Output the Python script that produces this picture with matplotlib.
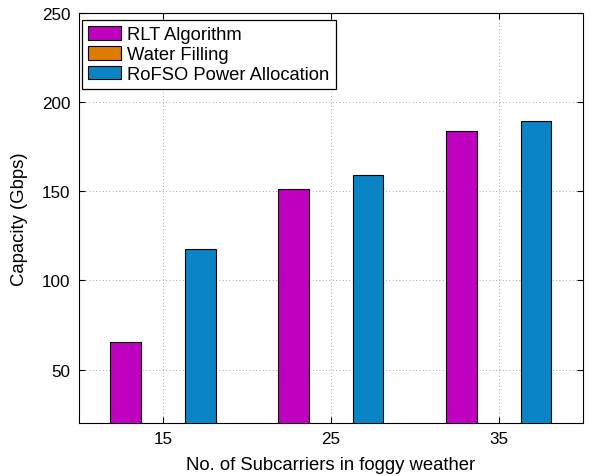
import numpy as np
import matplotlib
matplotlib.use('Agg')
import matplotlib.pyplot as plt

# Data
subcarriers = [15, 25, 35]
rlt = [65.5, 151.4, 183.7]
water_filling = [0, 0, 0]   # not visible (below the axis floor)
rofso = [117.5, 159.0, 189.1]

plt.rcParams['font.family'] = ['Liberation Sans', 'DejaVu Sans']

fig = plt.figure(figsize=(5.94, 4.77), dpi=100)
ax = fig.add_axes([0.133, 0.111, 0.848, 0.860])

x = np.array(subcarriers, dtype=float)
w = 1.83
off = 2.22
ax.bar(x - off, rlt, w, color='#BF00BF', edgecolor='black', linewidth=0.8,
       label='RLT Algorithm', zorder=3)
ax.bar(x, water_filling, w, color='#E07B00', edgecolor='black', linewidth=0.8,
       label='Water Filling', zorder=3)
ax.bar(x + off, rofso, w, color='#0B84C6', edgecolor='black', linewidth=0.8,
       label='RoFSO Power Allocation', zorder=3)

ax.set_xlim(10, 40)
ax.set_ylim(20, 250)
ax.set_xticks(subcarriers)
ax.set_yticks([50, 100, 150, 200, 250])
ax.tick_params(direction='in', top=True, right=True, labelsize=12.3, length=4, pad=6)
ax.grid(True, linestyle=(0, (1, 3)), color='#888888', linewidth=0.6, zorder=0)
for s in ax.spines.values():
    s.set_linewidth(0.8)

ax.set_xlabel('No. of Subcarriers in foggy weather', fontsize=13.3, labelpad=7)
ax.set_ylabel('Capacity (Gbps)', fontsize=13.3, labelpad=10)

leg = ax.legend(loc='upper left', bbox_to_anchor=(0.006, 0.983), fontsize=13.2,
                fancybox=False, edgecolor='black', framealpha=1, borderaxespad=0,
                handlelength=1.8, handleheight=0.75, handletextpad=0.3,
                labelspacing=0.15, borderpad=0.35)
leg.get_frame().set_linewidth(0.9)

fig.savefig('out.png', dpi=100)
